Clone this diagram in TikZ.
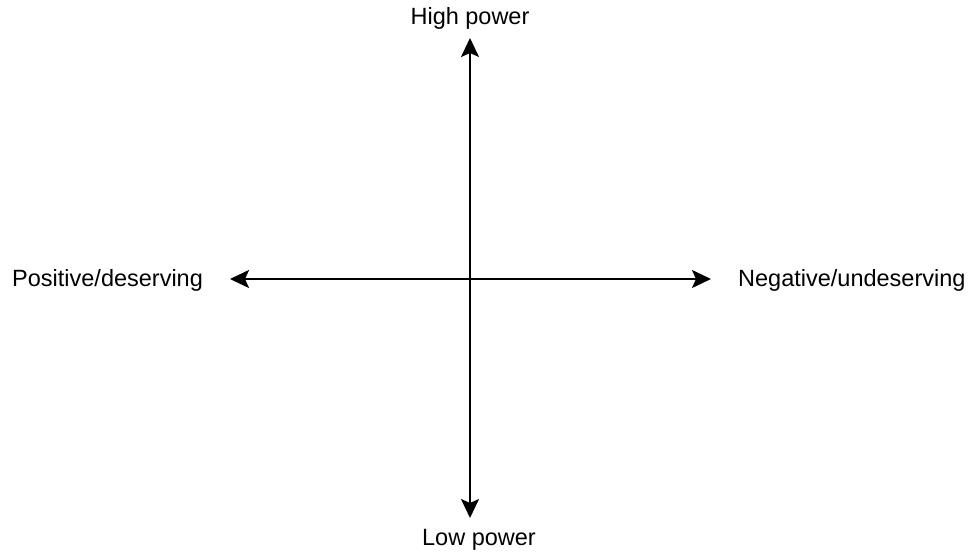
\documentclass[tikz,border=0pt]{standalone}
\usepackage{fontspec}
\setmainfont{Liberation Sans}
\usetikzlibrary{arrows.meta}

\begin{document}
\begin{tikzpicture}[x=1pt, y=-1pt, >={Stealth[length=19pt, width=18pt, inset=4pt]},
  lbl/.style={font=\fontsize{23.5}{28}\selectfont, inner sep=0pt},
  axis/.style={<->, line width=2pt}]
  \useasboundingbox (0,0) rectangle (972,554);
  % axis end points
  \coordinate (top) at (470,38);
  \coordinate (bottom) at (470,518);
  \coordinate (left) at (230,279);
  \coordinate (right) at (711,279);
  % labels
  \node[lbl] (high) at (470,18) {High power};
  \node[lbl] (low) at (479,540) {Low power};
  \node[lbl, anchor=west] (pos) at (12,280) {Positive/deserving};
  \node[lbl, anchor=west] (neg) at (738,280) {Negative/undeserving};
  % axes
  \draw[axis] (bottom) -- (top);
  \draw[axis] (left) -- (right);
\end{tikzpicture}
\end{document}
